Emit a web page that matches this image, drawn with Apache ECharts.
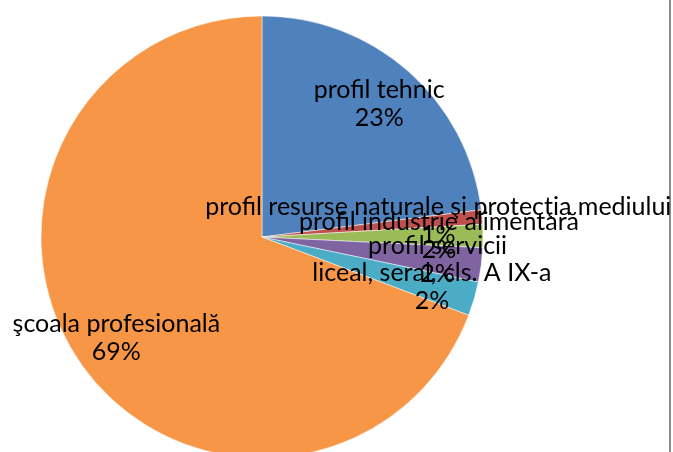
<!DOCTYPE html>
<html>
<head>
<meta charset="utf-8">
<script src="https://cdn.jsdelivr.net/npm/echarts@6/dist/echarts.min.js"></script>
<style>
  html, body { margin: 0; padding: 0; background: #fff; }
  #chart { width: 673px; height: 452px; }
</style>
</head>
<body>
<div id="chart"></div>
<script>
// categories in clockwise order starting at 12 o'clock
const categories = [
  'profil tehnic',
  'profil resurse naturale şi protecţia mediului',
  'profil industrie alimentară',
  'profil servicii',
  'liceal, seral, cls. A IX-a',
  'şcoala profesională',
];
// shares in percent
const shares = [23.03, 1.05, 1.7, 2.49, 2.49, 69.24];
const colors = ['#4F81BD', '#C0504D', '#9BBB59', '#8064A2', '#4BACC6', '#F79646'];

const total = shares.reduce((a, b) => a + b, 0);
const pieData = categories.map((name, i) => ({ name, value: shares[i] }));

const chart = echarts.init(document.getElementById('chart'));

const option = {
  animation: false,
  color: colors,
  graphic: [
    {
      type: 'rect',
      shape: { x: 669, y: 0, width: 2, height: 452 },
      style: { fill: '#8c8c8c' },
      silent: true,
    },
  ],
  series: [
    {
      name: 'slices',
      type: 'pie',
      center: [262, 237],
      radius: [0, 221],
      startAngle: 90,
      clockwise: true,
      silent: true,
      label: { show: false },
      labelLine: { show: false },
      itemStyle: { borderColor: '#fff', borderWidth: 0.5 },
      data: pieData,
    },
    {
      // invisible ring used only to place the labels at ~0.79 of the radius
      name: 'labels',
      type: 'pie',
      center: [262, 237],
      radius: [128, 220],
      startAngle: 90,
      clockwise: true,
      silent: true,
      avoidLabelOverlap: false,
      labelLayout: { hideOverlap: false },
      itemStyle: { color: 'rgba(0,0,0,0)' },
      labelLine: { show: false },
      label: {
        show: true,
        position: 'inside',
        color: '#000',
        fontFamily: 'Lato',
        fontSize: 25,
        lineHeight: 28,
        align: 'center',
        formatter: (p) => `${p.name}\n${Math.round((p.value / total) * 100)}%`,
      },
      data: pieData,
    },
  ],
};

chart.setOption(option);
</script>
</body>
</html>
